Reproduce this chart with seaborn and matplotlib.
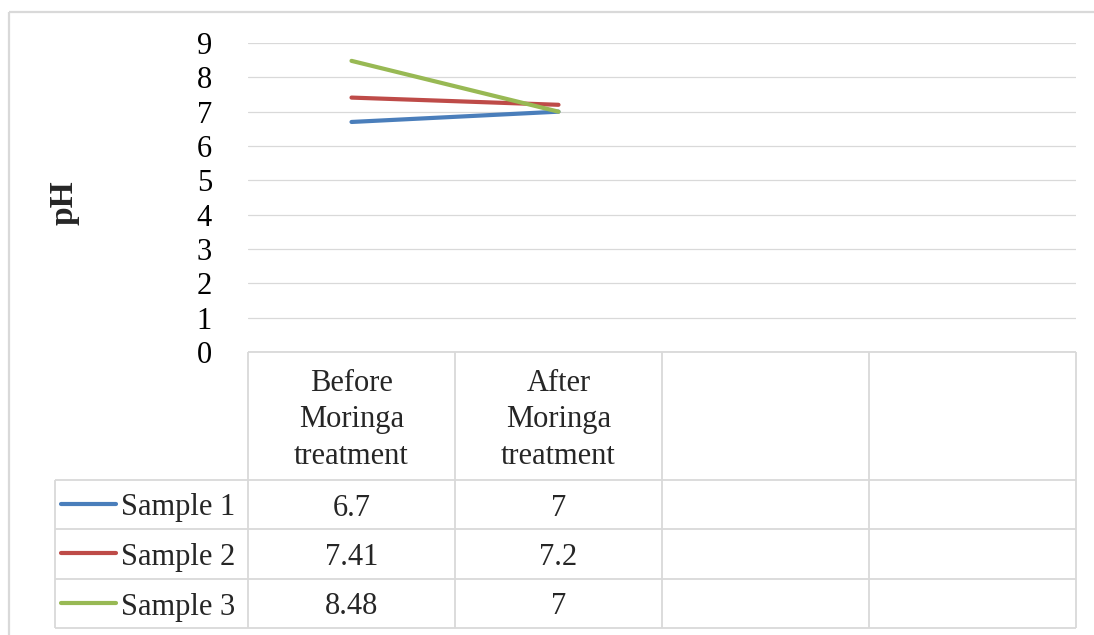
import matplotlib
matplotlib.use("Agg")
import matplotlib.pyplot as plt
import pandas as pd
import seaborn as sns

# Chart data
categories = ["Before\nMoringa\ntreatment", "After\nMoringa\ntreatment", "", ""]
samples = ["Sample 1", "Sample 2", "Sample 3"]
sample1 = [6.7, 7.0]
sample2 = [7.41, 7.2]
sample3 = [8.48, 7.0]
y_ticks = [0, 1, 2, 3, 4, 5, 6, 7, 8, 9]
colors = ["#4A7EBB", "#BE4B48", "#98B954"]

series = [sample1, sample2, sample3]

sns.set_style("white")
plt.rcParams["font.family"] = ["Liberation Serif", "DejaVu Serif"]

W, H = 1094, 635
fig = plt.figure(figsize=(W / 100, H / 100), dpi=100)


def fx(px):
    return px / W


def fy(py):
    return 1 - py / H


GRID = "#D9D9D9"
FS = 22

# Pixel layout of the plot area and table
left, right, top, zero = 248, 1076, 43, 352
legend_left = 55
header_bottom = 480
row_edges = [480, 529, 579, 628]

# Background layer (pixel coordinates) for the frame and the data table
bg = fig.add_axes([0, 0, 1, 1], zorder=0)
bg.set_xlim(0, W)
bg.set_ylim(H, 0)
bg.axis("off")

# Main line chart
ax = fig.add_axes([fx(left), fy(zero), fx(right) - fx(left), fy(top) - fy(zero)], zorder=1)
ax.patch.set_alpha(0)

df = pd.DataFrame({
    "pos": [i for s in series for i in range(len(s))],
    "pH": [v for s in series for v in s],
    "sample": [name for name, s in zip(samples, series) for _ in s],
})
sns.lineplot(data=df, x="pos", y="pH", hue="sample", hue_order=samples,
             palette=colors, linewidth=3.0, legend=False, ax=ax,
             solid_capstyle="round")

ax.set_xlim(-0.5, len(categories) - 0.5)
ax.set_ylim(y_ticks[0], y_ticks[-1])
ax.set_yticks(y_ticks)
ax.set_xticks([])
ax.set_xlabel("")
ax.set_ylabel("")
ax.grid(axis="y", color=GRID, linewidth=0.9)
ax.grid(axis="x", visible=False)
for sp in ax.spines.values():
    sp.set_visible(False)
ax.tick_params(axis="y", length=0, pad=26, labelsize=FS, labelcolor="black")

fig.text(fx(64), fy(203), "pH", rotation=90, fontsize=24, fontweight="bold",
         ha="center", va="center")

# Outer chart frame
bg.plot([9, W], [12, 12], color=GRID, lw=1.6, solid_capstyle="butt")
bg.plot([9, 9], [12, H], color=GRID, lw=1.6, solid_capstyle="butt")

# Data table: column edges follow the category axis
to_px = ax.transData
col_edges = []
for i in range(len(categories) + 1):
    xd = to_px.transform((i - 0.5, 0))[0]
    col_edges.append(xd)
col_centers = [(a + b) / 2 for a, b in zip(col_edges[:-1], col_edges[1:])]

tl = dict(color=GRID, lw=1.3, solid_capstyle="butt")
bg.plot([col_edges[0], col_edges[-1]], [zero, zero], **tl)
for y in row_edges:
    bg.plot([legend_left, col_edges[-1]], [y, y], **tl)
for x in col_edges:
    bg.plot([x, x], [zero, row_edges[-1]], **tl)
bg.plot([legend_left, legend_left], [row_edges[0], row_edges[-1]], **tl)

for cx, label in zip(col_centers, categories):
    if label:
        bg.text(cx, (zero + header_bottom) / 2 + 4, label, fontsize=FS,
                ha="center", va="center", linespacing=1.36)

for r, (name, s, c) in enumerate(zip(samples, series, colors)):
    cy = (row_edges[r] + row_edges[r + 1]) / 2
    bg.plot([61, 116], [cy - 1, cy - 1], color=c, lw=3.0, solid_capstyle="round")
    bg.text(121, cy, name, fontsize=FS, ha="left", va="center_baseline")
    for cx, v in zip(col_centers, s):
        bg.text(cx, cy, f"{v:g}", fontsize=FS, ha="center", va="center_baseline")

fig.savefig("out.png", dpi=100, facecolor="white")
